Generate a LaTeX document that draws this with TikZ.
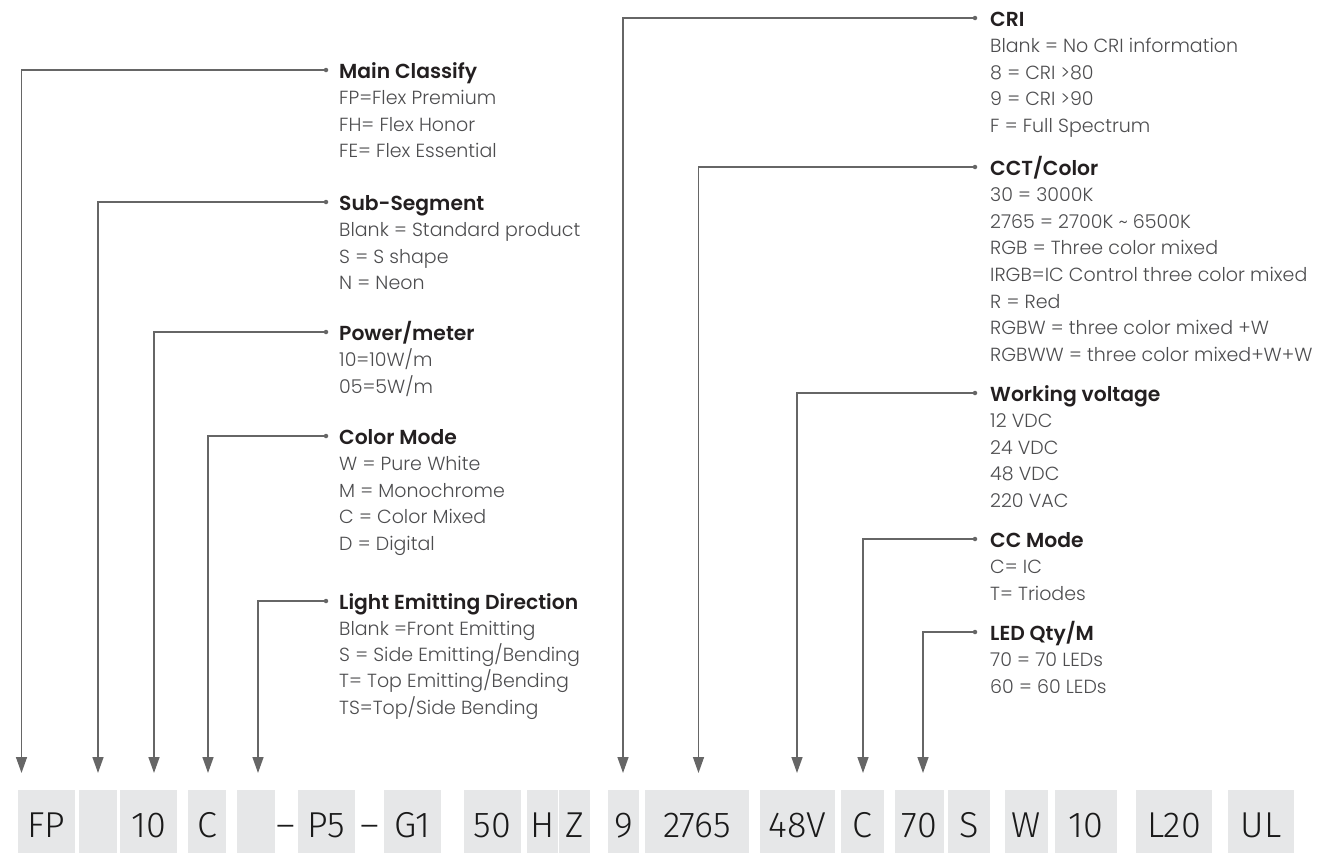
\documentclass[tikz,border=0pt]{standalone}
\usepackage{fontspec}
\setmainfont{Poppins}
\newfontfamily\descfont{Poppins}[UprightFont={* Light}]
\newfontfamily\headfont{Poppins}[UprightFont={* SemiBold}]
\newfontfamily\codefont{Fira Sans}[UprightFont={* Light}]
\usepackage{tikz}
\usetikzlibrary{arrows.meta, positioning, calc}
\usepackage{xcolor}
\definecolor{boxgray}{HTML}{E6E7E8}
\definecolor{linegray}{HTML}{666666}
\definecolor{headtext}{HTML}{231F20}
\definecolor{desctext}{HTML}{4D4D4F}
\definecolor{labeltext}{HTML}{1A1A1A}
\tikzset{
	codebox/.style={rectangle, fill=boxgray, minimum height=70pt, inner sep=0pt,
		text height=25pt, text depth=0pt, text=labeltext,
		font=\codefont\fontsize{36}{40}\selectfont},
	sepdash/.style={codebox, fill=none},
	head/.style={anchor=base west, inner sep=0pt, text=headtext,
		font=\headfont\fontsize{20.3}{22}\selectfont},
	desc/.style={anchor=base west, inner sep=0pt, text=desctext,
		font=\descfont\fontsize{19}{22}\selectfont},
	pindot/.style={circle, fill=linegray, minimum size=4.5pt, inner sep=0pt},
	lead/.style={draw=linegray, line width=1.4pt, -{Triangle[length=16pt,width=11pt]}}
}
\begin{document}
\begin{tikzpicture}[x=1pt,y=-1pt]
	\useasboundingbox (0,0) rectangle (1322,852);
	\clip (0,0) rectangle (1322,852);

	% Code boxes
	\node[codebox, minimum width=57pt] (FP) at (46.5,824.5) {FP};
	\node[codebox, minimum width=38pt] (seg) at (98,824.5) {};
	\node[codebox, minimum width=57pt] (pw) at (148.5,824.5) {10};
	\node[codebox, minimum width=38pt] (cm) at (207,824.5) {C};
	\node[codebox, minimum width=38pt] (dir) at (256,824.5) {};
	\node[sepdash] (dash-1) at (286,824.5) {\textendash};
	\node[codebox, minimum width=57pt] (P5) at (326.5,824.5) {P5};
	\node[sepdash] (dash-2) at (370,824.5) {\textendash};
	\node[codebox, minimum width=57pt] (G1) at (412.5,824.5) {G1};
	\node[codebox, minimum width=57pt] (hz-1) at (492.5,824.5) {50};
	\node[codebox, minimum width=31pt] (hz-2) at (542.5,824.5) {H};
	\node[codebox, minimum width=31pt] (hz-3) at (574.5,824.5) {Z};
	\node[codebox, minimum width=31pt] (cri) at (623.5,824.5) {9};
	\node[codebox, minimum width=104pt] (cct) at (697,824.5) {2765};
	\node[codebox, minimum width=75pt] (volt) at (797.5,824.5) {48V};
	\node[codebox, minimum width=43pt] (ccm) at (862.5,824.5) {C};
	\node[codebox, minimum width=49pt] (qty) at (919.5,824.5) {70};
	\node[codebox, minimum width=42pt] (s) at (969,824.5) {S};
	\node[codebox, minimum width=43pt] (w) at (1026.5,824.5) {W};
	\node[codebox, minimum width=62pt] (ten) at (1086,824.5) {10};
	\node[codebox, minimum width=76pt] (L20) at (1174,824.5) {L20};
	\node[codebox, minimum width=66pt] (UL) at (1261,824.5) {UL};

	% Arrow ends
	\coordinate (tip-main) at (21.5,773);
	\coordinate (tip-seg) at (98,773);
	\coordinate (tip-pw) at (154,773);
	\coordinate (tip-cm) at (208,773);
	\coordinate (tip-dir) at (258,773);
	\coordinate (tip-cri) at (623,773);
	\coordinate (tip-cct) at (698.5,773);
	\coordinate (tip-volt) at (797,773);
	\coordinate (tip-ccm) at (863,773);
	\coordinate (tip-qty) at (923,773);

	% Main Classify
	\node[pindot] (dot-main) at (326,70) {};
	\node[head] (hd-main) at (339,78) {Main Classify};
	\foreach \entry [count=\i] in {FP=Flex Premium, FH= Flex Honor, FE= Flex Essential}
		\node[desc] (main-\i) at (339,78+26.6*\i) {\entry};

	% Sub-Segment
	\node[pindot] (dot-seg) at (326,202) {};
	\node[head] (hd-seg) at (339,210) {Sub-Segment};
	\foreach \entry [count=\i] in {Blank = Standard product, S = S shape, N = Neon}
		\node[desc] (seg-\i) at (339,210+26.6*\i) {\entry};

	% Power/meter
	\node[pindot] (dot-pw) at (326,332) {};
	\node[head] (hd-pw) at (339,340) {Power/meter};
	\foreach \entry [count=\i] in {10=10W/m, 05=5W/m}
		\node[desc] (pw-\i) at (339,340+26.6*\i) {\entry};

	% Color Mode
	\node[pindot] (dot-cm) at (326,436) {};
	\node[head] (hd-cm) at (339,444) {Color Mode};
	\foreach \entry [count=\i] in {W = Pure White, M = Monochrome, C = Color Mixed, D = Digital}
		\node[desc] (cm-\i) at (339,444+26.6*\i) {\entry};

	% Light Emitting Direction
	\node[pindot] (dot-dir) at (326,601) {};
	\node[head] (hd-dir) at (339,609) {Light Emitting Direction};
	\foreach \entry [count=\i] in {Blank =Front Emitting, S = Side Emitting/Bending,
		T= Top Emitting/Bending, TS=Top/Side Bending}
		\node[desc] (dir-\i) at (339,609+26.3*\i) {\entry};

	% CRI
	\node[pindot] (dot-cri) at (975,18) {};
	\node[head] (hd-cri) at (990,26) {CRI};
	\foreach \entry [count=\i] in {Blank = No CRI information, 8 = CRI >80, 9 = CRI >90, F = Full Spectrum}
		\node[desc] (cri-\i) at (990,26+26.6*\i) {\entry};

	% CCT/Color
	\node[pindot] (dot-cct) at (975,167) {};
	\node[head] (hd-cct) at (990,175) {CCT/Color};
	\foreach \entry [count=\i] in {30 = 3000K, 2765 = 2700K \textasciitilde{} 6500K,
		RGB = Three color mixed, IRGB=IC Control three color mixed, R = Red,
		RGBW = three color mixed +W, RGBWW = three color mixed+W+W}
		\node[desc] (cct-\i) at (990,175+26.6*\i) {\entry};

	% Working voltage
	\node[pindot] (dot-volt) at (975,393) {};
	\node[head] (hd-volt) at (990,401) {Working voltage};
	\foreach \entry [count=\i] in {12 VDC, 24 VDC, 48 VDC, 220 VAC}
		\node[desc] (volt-\i) at (990,401+26.6*\i) {\entry};

	% CC Mode
	\node[pindot] (dot-ccm) at (975,539) {};
	\node[head] (hd-ccm) at (990,547) {CC Mode};
	\foreach \entry [count=\i] in {C= IC, T= Triodes}
		\node[desc] (ccm-\i) at (990,547+26.6*\i) {\entry};

	% LED Qty/M
	\node[pindot] (dot-qty) at (975,632) {};
	\node[head] (hd-qty) at (990,640) {LED Qty/M};
	\foreach \entry [count=\i] in {70 = 70 LEDs, 60 = 60 LEDs}
		\node[desc] (qty-\i) at (990,640+26.6*\i) {\entry};

	% Connections
	\foreach \k in {main, seg, pw, cm, dir, cri, cct, volt, ccm, qty}
		\draw[lead] (dot-\k) -| (tip-\k);
\end{tikzpicture}
\end{document}
